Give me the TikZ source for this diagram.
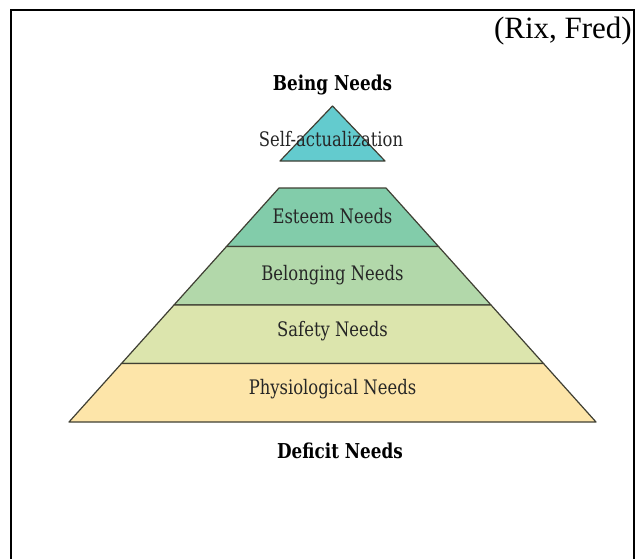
\documentclass[tikz,border=0pt]{standalone}
\usepackage{fontspec}
\setmainfont{Liberation Serif}
\newfontfamily\slab{DejaVu Serif}[FakeStretch=0.82]
\definecolor{topcol}{HTML}{63CBCE}
\definecolor{esteemcol}{HTML}{82CCAA}
\definecolor{belongcol}{HTML}{B2D8AA}
\definecolor{safetycol}{HTML}{DCE5AD}
\definecolor{physiocol}{HTML}{FDE5A9}
\definecolor{edgecol}{HTML}{3F3F33}
\tikzset{
  layer/.style={fill=#1,draw=edgecol,line width=1.2pt,line join=round},
  lbl/.style={font=\slab\fontsize{20}{20}\selectfont,text=black!85,inner sep=0pt},
  head/.style={font=\slab\bfseries\fontsize{20.5}{20.5}\selectfont,inner sep=0pt},
}
\begin{document}
\begin{tikzpicture}[x=1pt,y=-1pt]
\useasboundingbox (0,0) rectangle (637,559);
% Cadre
\draw[line width=2pt] (11,559)--(11,10)--(634,10)--(634,559);
\node[anchor=east,inner sep=0pt,font=\fontsize{31}{31}\selectfont] (source) at (632,31) {(Rix, Fred)};
% Sommet
\node[head] (being) at (332.5,85) {Being Needs};
\filldraw[layer=topcol] (332.5,106)--(385,161)--(280,161)--cycle;
\node[lbl] (self) at (331,139) {Self-actualization};
% Estime
\filldraw[layer=esteemcol] (279,188)--(386,188)--(438.5,246.5)--(226.5,246.5)--cycle;
\node[lbl] (esteem) at (332.5,216) {Esteem Needs};
% Appartenance
\filldraw[layer=belongcol] (226.5,246.5)--(438.5,246.5)--(491,305)--(174,305)--cycle;
\node[lbl] (belong) at (332.5,275) {Belonging Needs};
% Securite
\filldraw[layer=safetycol] (174,305)--(491,305)--(543.5,363.5)--(121.5,363.5)--cycle;
\node[lbl] (safety) at (332.5,331) {Safety Needs};
% Physiologie
\filldraw[layer=physiocol] (121.5,363.5)--(543.5,363.5)--(596,422)--(69,422)--cycle;
\node[lbl] (physio) at (332.5,389) {Physiological Needs};
% Base
\node[head] (deficit) at (340,451) {Deficit Needs};
\end{tikzpicture}
\end{document}
